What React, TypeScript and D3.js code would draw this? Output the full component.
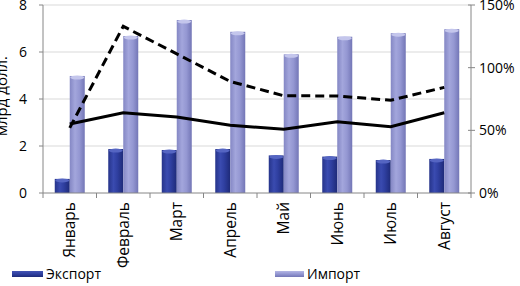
import React from "react";
import * as d3 from "d3";

const months = ["Январь", "Февраль", "Март", "Апрель", "Май", "Июнь", "Июль", "Август"];
const exportVals = [0.6, 1.87, 1.83, 1.87, 1.6, 1.55, 1.4, 1.45];
const importVals = [4.98, 6.68, 7.36, 6.86, 5.9, 6.65, 6.8, 6.97];
const solidPct = [55, 64, 60.6, 54, 50.8, 56.9, 52.9, 64];
const dashedPct = [52, 133, 111, 89, 77.6, 77.4, 74, 84.3];
const leftTicks = [0, 2, 4, 6, 8];
const rightTicks = [0, 50, 100, 150];
const legendLabels = ["Экспорт", "Импорт"];

const W = 520;
const H = 286;
const L = 43;
const R = 471;
const T = 5;
const B = 193;
const FONT = "'Open Sans', sans-serif";

export default function App() {
  const x = d3.scaleBand<string>().domain(months).range([L, R]).paddingInner(0).paddingOuter(0);
  const y = d3.scaleLinear().domain([0, 8]).range([B, T]);
  const y2 = d3.scaleLinear().domain([0, 150]).range([B, T]);
  const bw = 15;
  const cx = (m: string) => (x(m) as number) + x.bandwidth() / 2;
  const line = d3
    .line<number>()
    .x((_, i) => cx(months[i]))
    .y((d) => y2(d));

  const bar = (xs: number, v: number, grad: string, cap: string, key: string) => {
    const top = y(v);
    return (
      <g key={key}>
        <rect x={xs} y={top} width={bw} height={B - top} fill={`url(#${grad})`} />
        <ellipse cx={xs + bw / 2} cy={top + 1.5} rx={bw / 2 - 0.5} ry={2} fill={cap} />
      </g>
    );
  };

  return (
    <svg
      width={W}
      height={H}
      style={{ position: "absolute", left: 0, top: 0, background: "#fff" }}
      fontFamily={FONT}
    >
      <defs>
        <linearGradient id="gExp" x1="0" x2="1" y1="0" y2="0">
          <stop offset="0" stopColor="#26348a" />
          <stop offset="0.35" stopColor="#3a4bb0" />
          <stop offset="0.6" stopColor="#2f3fa0" />
          <stop offset="1" stopColor="#1e2a78" />
        </linearGradient>
        <linearGradient id="gImp" x1="0" x2="1" y1="0" y2="0">
          <stop offset="0" stopColor="#8487c4" />
          <stop offset="0.35" stopColor="#a3a6dc" />
          <stop offset="0.65" stopColor="#9497d2" />
          <stop offset="1" stopColor="#7376b6" />
        </linearGradient>
        <linearGradient id="gExpL" x1="0" x2="0" y1="0" y2="1">
          <stop offset="0" stopColor="#4454b4" />
          <stop offset="0.5" stopColor="#2f3fa0" />
          <stop offset="1" stopColor="#1e2a78" />
        </linearGradient>
        <linearGradient id="gImpL" x1="0" x2="0" y1="0" y2="1">
          <stop offset="0" stopColor="#b4b6e4" />
          <stop offset="0.5" stopColor="#9497d2" />
          <stop offset="1" stopColor="#7376b6" />
        </linearGradient>
      </defs>

      {leftTicks
        .filter((t) => t > 0)
        .map((t) => (
          <line key={t} x1={L} x2={R} y1={y(t)} y2={y(t)} stroke="#d9d9d9" strokeWidth={1} />
        ))}

      {months.map((m, i) => (
        <g key={m}>
          {bar(cx(m) - bw, exportVals[i], "gExp", "#5565c2", "e" + i)}
          {bar(cx(m), importVals[i], "gImp", "#c4c6ec", "i" + i)}
        </g>
      ))}

      <line x1={L} x2={L} y1={T} y2={B} stroke="#868686" />
      <line x1={R} x2={R} y1={T} y2={B} stroke="#868686" />
      <line x1={L} x2={R} y1={B} y2={B} stroke="#868686" />
      {months.concat([""]).map((m, i) => {
        const xx = L + i * x.bandwidth();
        return <line key={"t" + i} x1={xx} x2={xx} y1={B} y2={B + 5} stroke="#868686" />;
      })}
      {leftTicks.map((t) => (
        <g key={"l" + t}>
          <line x1={L - 4} x2={L} y1={y(t)} y2={y(t)} stroke="#868686" />
          <text x={27} y={y(t)} dy="0.36em" textAnchor="end" fontSize={14} fill="#000">
            {t}
          </text>
        </g>
      ))}
      {rightTicks.map((t) => (
        <g key={"r" + t}>
          <line x1={R - 3} x2={R + 4} y1={y2(t)} y2={y2(t)} stroke="#868686" />
          <text x={479} y={y2(t)} dy="0.36em" textAnchor="start" fontSize={14} fill="#000">
            {t}%
          </text>
        </g>
      ))}

      <path d={line(solidPct) || ""} fill="none" stroke="#000" strokeWidth={3} />
      <path
        d={line(dashedPct) || ""}
        fill="none"
        stroke="#000"
        strokeWidth={3}
        strokeDasharray="9,5"
      />

      {months.map((m) => (
        <text
          key={"c" + m}
          transform={`translate(${cx(m)},${B + 9}) rotate(-90)`}
          textAnchor="end"
          dy="0.36em"
          fontSize={15.5}
          fill="#000"
        >
          {m}
        </text>
      ))}

      <text
        transform={`translate(2,96) rotate(-90)`}
        textAnchor="middle"
        dy="0.36em"
        fontSize={15}
        fill="#000"
      >
        млрд долл.
      </text>

      <rect x={12} y={271} width={31} height={6} fill="url(#gExpL)" />
      <text x={46} y={279} fontSize={14} fill="#000">
        {legendLabels[0]}
      </text>
      <rect x={275} y={271} width={29} height={6} fill="url(#gImpL)" />
      <text x={307} y={279} fontSize={14} fill="#000">
        {legendLabels[1]}
      </text>
    </svg>
  );
}
